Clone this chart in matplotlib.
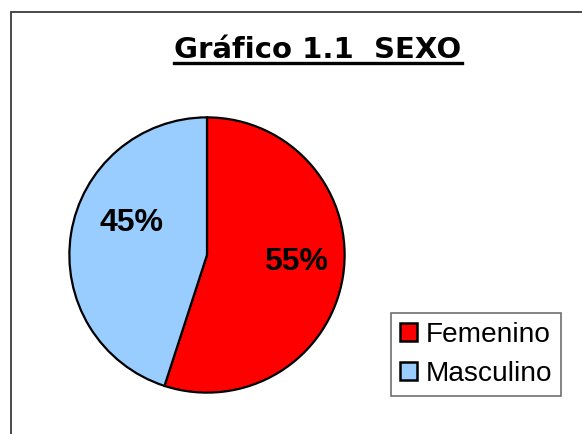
import matplotlib.pyplot as plt
from matplotlib.patches import Rectangle
from matplotlib.lines import Line2D

# Data
labels = ['Femenino', 'Masculino']
values = [55, 45]
colors = ['#FF0000', '#99CCFF']
title = 'Gráfico 1.1  SEXO'

W, H = 582, 434
fig = plt.figure(figsize=(W / 100, H / 100), dpi=100)
fig.patch.set_facecolor('white')

# outer chart frame (only left/top edges fall inside the picture)
frame = Rectangle((11 / W, -0.1), 1.2, (H - 12) / H + 0.1, transform=fig.transFigure,
                  fill=False, edgecolor='#3a3a3a', linewidth=1.3)
fig.patches.append(frame)

# pie: centre (207, 255) px, radius 139 px
cx, cy, r = 207, 255, 139
ax = fig.add_axes([(cx - r) / W, (H - cy - r) / H, 2 * r / W, 2 * r / H])
wedges, texts, autotexts = ax.pie(values, colors=colors, startangle=90, counterclock=False,
                                  autopct='%1.0f%%', pctdistance=0.64,
                                  wedgeprops=dict(edgecolor='black', linewidth=1.6),
                                  textprops=dict(fontfamily='Liberation Sans', fontweight='bold',
                                                 fontsize=23, color='black'))
# label placement as in the original (pixel offsets from the centre)
autotexts[0].set_position(((297 - cx) / r, (cy - 262) / r))
autotexts[1].set_position(((131 - cx) / r, (cy - 223) / r))
ax.set_xlim(-1.01, 1.01)
ax.set_ylim(-1.01, 1.01)
ax.set_aspect('equal')
ax.axis('off')

# title with underline
t = fig.text(318 / W, 1 - 57.5 / H, title, ha='center', va='baseline',
             fontfamily='DejaVu Sans', fontweight='bold', fontsize=21)
fig.canvas.draw()
bb = t.get_window_extent(fig.canvas.get_renderer())
fig.lines.append(Line2D([bb.x0 / W, bb.x1 / W], [1 - 62.5 / H, 1 - 62.5 / H],
                        transform=fig.transFigure, color='black', linewidth=2.4))

# legend
leg = fig.legend(wedges, labels, loc='upper left', bbox_to_anchor=(391 / W, 1 - 313 / H),
                 prop=dict(family='Liberation Sans', size=20.2), fancybox=False,
                 edgecolor='#707070', framealpha=1, handlelength=0.6, handleheight=0.6,
                 handletextpad=0.3, labelspacing=0.45, borderpad=0.33, borderaxespad=0)
leg.get_frame().set_linewidth(1.2)
for h in leg.legend_handles:
    h.set_linewidth(1.8)

fig.savefig('out.png', dpi=100)
